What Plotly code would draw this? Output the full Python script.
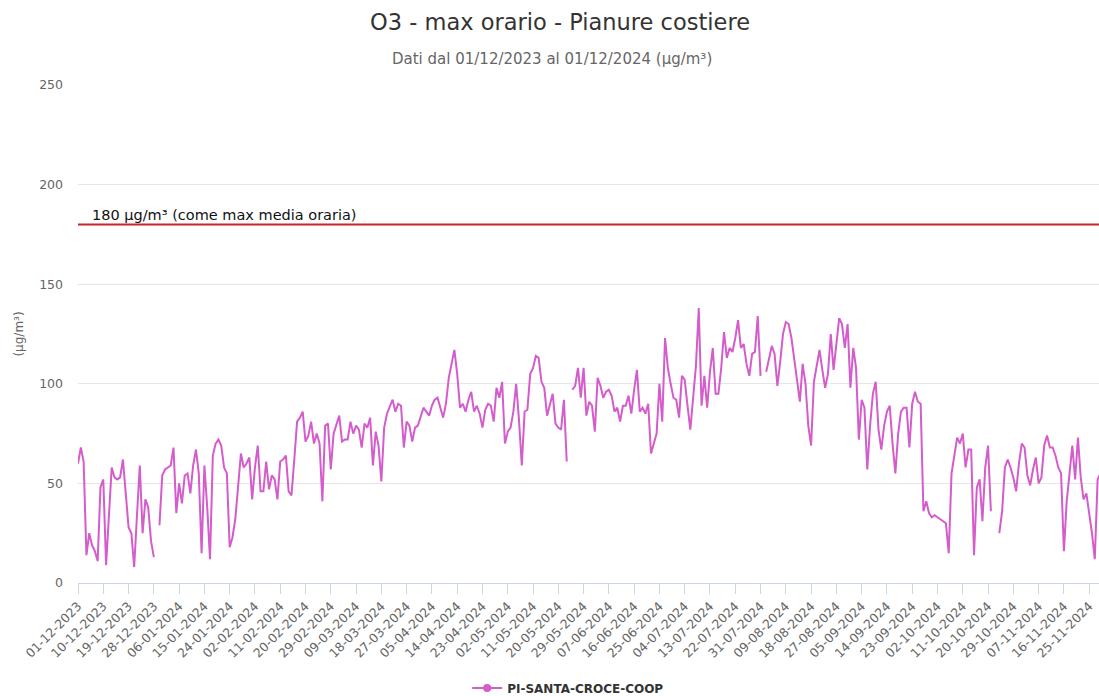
import pandas as pd
import plotly.graph_objects as go

# ---------------- data ----------------
start_date = "2023-12-01"
o3_values = [
    60, 68, 61, 14, 25, 19, 16, 11, 48, 52,
    9, 33, 58, 53, 52, 53, 62, 45, 28, 25,
    8, 34, 59, 25, 42, 38, 21, 13, None, 29,
    54, 57, 58, 59, 68, 35, 50, 40, 54, 55,
    45, 59, 67, 55, 15, 59, 38, 12, 64, 70,
    72, 69, 58, 55, 18, 23, 32, 50, 65, 58,
    60, 63, 42, 58, 69, 46, 46, 61, 47, 54,
    52, 42, 61, 62, 64, 46, 44, 62, 81, 83,
    86, 71, 74, 81, 70, 75, 70, 41, 79, 80,
    57, 75, 80, 84, 71, 72, 72, 81, 75, 79,
    77, 68, 80, 78, 83, 59, 76, 69, 51, 78,
    85, 89, 92, 86, 90, 89, 68, 81, 79, 71,
    78, 79, 84, 88, 86, 84, 89, 92, 93, 88,
    83, 90, 103, 110, 117, 105, 88, 90, 86, 92,
    96, 86, 89, 85, 78, 87, 90, 89, 81, 98,
    93, 101, 70, 76, 78, 86, 100, 82, 59, 86,
    87, 105, 108, 114, 113, 101, 98, 84, 89, 95,
    80, 78, 77, 92, 61, None, 97, 99, 108, 93,
    108, 84, 91, 89, 76, 103, 99, 93, 96, 97,
    94, 86, 88, 81, 89, 89, 94, 85, 97, 107,
    86, 88, 85, 90, 65, 70, 75, 100, 81, 123,
    108, 100, 93, 92, 83, 104, 102, 89, 77, 93,
    109, 138, 89, 104, 88, 106, 118, 95, 95, 108,
    126, 113, 118, 116, 123, 132, 118, 120, 110, 104,
    115, 116, 134, 104, None, 106, 113, 119, 115, 99,
    111, 125, 131, 130, 123, 113, 102, 91, 110, 100,
    79, 69, 101, 109, 117, 107, 98, 105, 125, 107,
    121, 133, 130, 118, 130, 98, 118, 108, 72, 92,
    88, 57, 79, 95, 101, 77, 67, 79, 86, 89,
    70, 55, 75, 86, 88, 88, 68, 90, 96, 91,
    90, 36, 41, 35, 33, 34, 33, 32, 31, 30,
    15, 55, 64, 73, 70, 75, 58, 67, 67, 14,
    48, 52, 31, 58, 69, 36, None, None, 25, 36,
    58, 62, 58, 53, 46, 60, 70, 68, 54, 49,
    57, 63, 50, 53, 69, 74, 68, 68, 64, 58,
    55, 16, 41, 55, 69, 52, 73, 53, 42, 45,
    35, 25, 12, 52, 55, 50, 48,
]
dates = pd.date_range(start_date, periods=len(o3_values), freq="D")

tick_labels = [
    "01-12-2023", "10-12-2023", "19-12-2023", "28-12-2023", "06-01-2024",
    "15-01-2024", "24-01-2024", "02-02-2024", "11-02-2024", "20-02-2024",
    "29-02-2024", "09-03-2024", "18-03-2024", "27-03-2024", "05-04-2024",
    "14-04-2024", "23-04-2024", "02-05-2024", "11-05-2024", "20-05-2024",
    "29-05-2024", "07-06-2024", "16-06-2024", "25-06-2024", "04-07-2024",
    "13-07-2024", "22-07-2024", "31-07-2024", "09-08-2024", "18-08-2024",
    "27-08-2024", "05-09-2024", "14-09-2024", "23-09-2024", "02-10-2024",
    "11-10-2024", "20-10-2024", "29-10-2024", "07-11-2024", "16-11-2024",
    "25-11-2024",
]
tick_dates = [pd.to_datetime(t, format="%d-%m-%Y") for t in tick_labels]

series_name = "PI-SANTA-CROCE-COOP"
threshold_value = 180
threshold_label = "180 µg/m³ (come max media oraria)"

# ---------------- figure ----------------
FONT = "DejaVu Sans"
LINE_COLOR = "#d45ccb"

fig = go.Figure()
fig.add_trace(go.Scatter(
    x=dates, y=o3_values, mode="lines", name=series_name,
    line=dict(color=LINE_COLOR, width=2), connectgaps=False,
    showlegend=False, hoverinfo="x+y",
))
# legend entry (line + marker symbol)
fig.add_trace(go.Scatter(
    x=[None], y=[None], mode="lines+markers", name=series_name,
    line=dict(color=LINE_COLOR, width=2),
    marker=dict(color=LINE_COLOR, size=8, symbol="circle"),
    showlegend=True,
))

fig.add_shape(type="line", xref="paper", x0=0, x1=1, yref="y",
              y0=threshold_value, y1=threshold_value,
              line=dict(color="#cc2229", width=2))
fig.add_annotation(text=threshold_label, xref="paper", x=0.0118, xanchor="left",
                   yref="y", y=threshold_value, yanchor="bottom", yshift=-1,
                   showarrow=False, font=dict(family=FONT, size=14.5, color="#111"))

fig.add_annotation(text="Dati dal 01/12/2023 al 01/12/2024 (µg/m³)",
                   xref="paper", x=0.4643, xanchor="center",
                   yref="paper", y=1.052, yanchor="middle",
                   showarrow=False, font=dict(family=FONT, size=15, color="#666666"))

x_end = pd.Timestamp(start_date) + pd.Timedelta(days=363.5)

fig.update_layout(
    width=1099, height=696,
    margin=dict(l=78, r=0, t=85, b=113),
    paper_bgcolor="white", plot_bgcolor="white",
    font=dict(family=FONT, color="#666666"),
    title=dict(text="O3 - max orario - Pianure costiere",
               xref="container", x=0.5096, xanchor="center",
               yref="container", y=1 - 22 / 696, yanchor="middle",
               font=dict(family=FONT, size=22.5, color="#333333")),
    xaxis=dict(
        type="date", range=[pd.Timestamp(start_date), x_end],
        tickvals=tick_dates, ticktext=tick_labels, tickangle=-45,
        ticks="outside", ticklen=10, tickcolor="#ccd6eb", tickwidth=1,
        showline=True, linecolor="#ccd6eb", linewidth=1,
        showgrid=False, zeroline=False,
        tickfont=dict(family=FONT, size=12.5, color="#666666"),
    ),
    yaxis=dict(
        range=[0, 250], dtick=50, tick0=0,
        showgrid=True, gridcolor="#e6e6e6", gridwidth=1,
        showline=False, zeroline=False, ticks="",
        ticklabelstandoff=14,
        tickfont=dict(family=FONT, size=12.5, color="#666666"),
        title=dict(text="(µg/m³)", standoff=12,
                   font=dict(family=FONT, size=12, color="#666666")),
    ),
    legend=dict(
        orientation="h", xref="container", x=0.517, xanchor="center",
        yref="container", y=8 / 696, yanchor="middle",
        font=dict(family=FONT, size=12, color="#333333", weight="bold"),
        bgcolor="rgba(0,0,0,0)",
    ),
    showlegend=True,
)

fig.write_html("out.html", config={"displayModeBar": False},
               post_script="document.body.style.margin='0';")
